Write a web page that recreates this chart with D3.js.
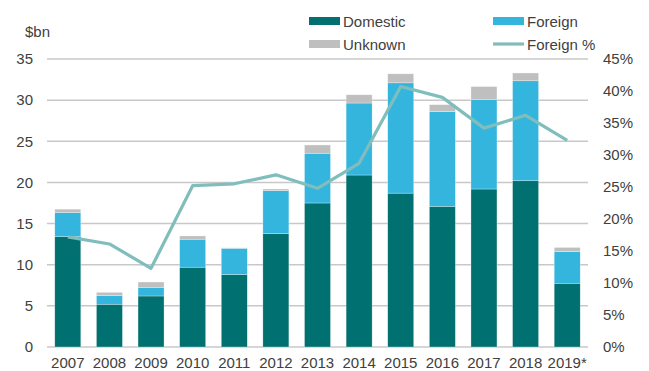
<!DOCTYPE html>
<html><head><meta charset="utf-8">
<script src="https://cdn.jsdelivr.net/npm/d3@7"></script>
<style>body{margin:0;background:#fff}svg{display:block;font-family:"Liberation Sans",Arial,sans-serif}</style>
</head><body><svg id="c" width="649" height="371"></svg>
<script>
const years = ["2007","2008","2009","2010","2011","2012","2013","2014","2015","2016","2017","2018","2019*"];
const domestic = [13.4,5.2,6.2,9.7,8.8,13.8,17.5,20.9,18.7,17.1,19.2,20.2,7.75];
const foreign  = [2.95,1.05,1.0,3.4,3.2,5.2,6.05,8.75,13.4,11.5,10.85,12.15,3.85];
const unknown  = [0.4,0.4,0.7,0.4,0.05,0.2,1.0,1.0,1.1,0.85,1.6,0.95,0.5];
const foreignPct = [17.2,16.1,12.3,25.2,25.5,26.9,24.8,28.7,40.7,39.0,34.2,36.2,32.3];
const leftTicks = [0,5,10,15,20,25,30,35];
const rightTicks = [0,5,10,15,20,25,30,35,40,45];

const colors = {Domestic:"#007070", Foreign:"#33B5DE", Unknown:"#BFBFBF", line:"#80BDBD"};
const svg = d3.select("#c");
const x = d3.scaleBand().domain(years).range([47,588]).paddingInner(0.375).paddingOuter(0.1875);
const y = d3.scaleLinear().domain([0,35]).range([347,59]);
const y2 = d3.scaleLinear().domain([0,45]).range([347,59]);

// gridlines
svg.append("g").selectAll("line").data(leftTicks).join("line")
  .attr("x1",47).attr("x2",588).attr("y1",d=>y(d)).attr("y2",d=>y(d))
  .attr("stroke","#C8C8C8").attr("stroke-width",1.5);

// left axis
const la = svg.append("g").attr("transform","translate(47,0)")
  .call(d3.axisLeft(y).tickValues(leftTicks).tickSize(0).tickPadding(14));
la.select(".domain").remove();
la.selectAll("text").attr("font-size",15).attr("fill","#404040").attr("font-family","Liberation Sans, Arial, sans-serif");

// right axis
const ra = svg.append("g").attr("transform","translate(588,0)")
  .call(d3.axisRight(y2).tickValues(rightTicks).tickSize(0).tickPadding(15).tickFormat(d=>d+"%"));
ra.select(".domain").remove();
ra.selectAll("text").attr("font-size",15).attr("fill","#404040").attr("font-family","Liberation Sans, Arial, sans-serif");

// x axis
const xa = svg.append("g").attr("transform","translate(0,347)")
  .call(d3.axisBottom(x).tickSize(0).tickPadding(10));
xa.select(".domain").remove();
xa.selectAll("text").attr("font-size",15).attr("fill","#404040").attr("font-family","Liberation Sans, Arial, sans-serif");

svg.append("text").attr("x",25).attr("y",37).attr("font-size",15).attr("fill","#404040").text("$bn");

// stacked bars
const rows = years.map((yr,i)=>({year:yr, Domestic:domestic[i], Foreign:foreign[i], Unknown:unknown[i]}));
const stack = d3.stack().keys(["Domestic","Foreign","Unknown"])(rows);
svg.append("g").selectAll("g").data(stack).join("g").attr("fill",d=>colors[d.key])
  .selectAll("rect").data(d=>d).join("rect")
  .attr("x",d=>x(d.data.year)).attr("width",x.bandwidth())
  .attr("y",d=>y(d[1])).attr("height",d=>Math.max(0,y(d[0])-y(d[1])))
  .attr("stroke","#fff").attr("stroke-width",0.5).attr("stroke-opacity",0.6);

// line
const line = d3.line().x((d,i)=>x(years[i])+x.bandwidth()/2).y(d=>y2(d));
svg.append("path").datum(foreignPct).attr("d",line).attr("fill","none")
  .attr("stroke",colors.line).attr("stroke-width",3.2).attr("stroke-linejoin","round");

// legend
const lg = svg.append("g").attr("font-size",15).attr("fill","#404040");
const items = [
  {k:"Domestic",x:309,y:21,type:"rect"},
  {k:"Foreign",x:493,y:21,type:"rect"},
  {k:"Unknown",x:309,y:44,type:"rect"},
  {k:"Foreign %",x:493,y:44,type:"line"}
];
items.forEach(it=>{
  if(it.type==="rect"){
    lg.append("rect").attr("x",it.x).attr("y",it.y-4).attr("width",31).attr("height",8).attr("fill",colors[it.k]);
  } else {
    lg.append("line").attr("x1",it.x).attr("x2",it.x+31).attr("y1",it.y).attr("y2",it.y)
      .attr("stroke",colors.line).attr("stroke-width",3.2);
  }
  lg.append("text").attr("x",it.x+34).attr("y",it.y+5.5).text(it.k);
});
</script></body></html>
